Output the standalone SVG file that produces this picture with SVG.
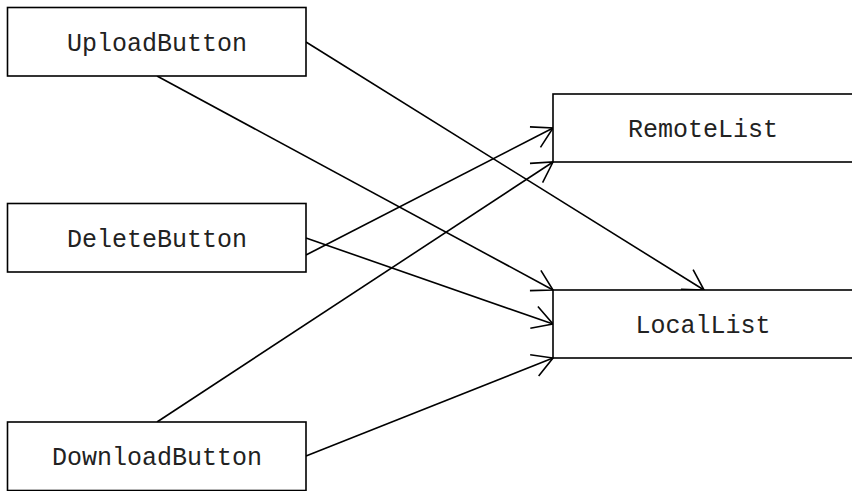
<svg xmlns="http://www.w3.org/2000/svg" width="852" height="491" viewBox="0 0 852 491">
<style>
.box{fill:#fff;stroke:#000;stroke-width:1.6}
.lbl{font-family:"Liberation Mono","Courier New",monospace;font-size:25px;fill:#222;text-anchor:middle}
.edge{fill:none;stroke:#000;stroke-width:1.6;marker-end:url(#arr)}
</style>
<defs>
<marker id="arr" markerUnits="userSpaceOnUse" markerWidth="30" markerHeight="30" viewBox="-25 -15 30 30" refX="0" refY="0" orient="auto">
<path d="M-20,-11.5 L0,0 L-20,11.5" fill="none" stroke="#000" stroke-width="1.6"/>
</marker>
</defs>
<rect width="852" height="491" fill="#fff"/>
<g id="connectors">
<line class="edge" x1="306" y1="42" x2="704" y2="290"/>
<line class="edge" x1="157" y1="76" x2="553" y2="290"/>
<line class="edge" x1="306" y1="238" x2="553" y2="324"/>
<line class="edge" x1="306" y1="255" x2="553" y2="128"/>
<line class="edge" x1="157" y1="422" x2="553" y2="162"/>
<line class="edge" x1="306" y1="456" x2="553" y2="358"/>
</g>
<g id="UploadButton"><rect class="box" x="7.5" y="7.5" width="298.5" height="68.5"/><text class="lbl" x="157" y="51">UploadButton</text></g>
<g id="DeleteButton"><rect class="box" x="7.5" y="203.5" width="298.5" height="68.5"/><text class="lbl" x="157" y="247">DeleteButton</text></g>
<g id="DownloadButton"><rect class="box" x="7.5" y="422" width="298.5" height="68.5"/><text class="lbl" x="157" y="465">DownloadButton</text></g>
<g id="RemoteList"><rect class="box" x="553" y="94" width="300" height="68"/><text class="lbl" x="703" y="137">RemoteList</text></g>
<g id="LocalList"><rect class="box" x="553" y="290" width="300" height="68"/><text class="lbl" x="703" y="333">LocalList</text></g>
</svg>
